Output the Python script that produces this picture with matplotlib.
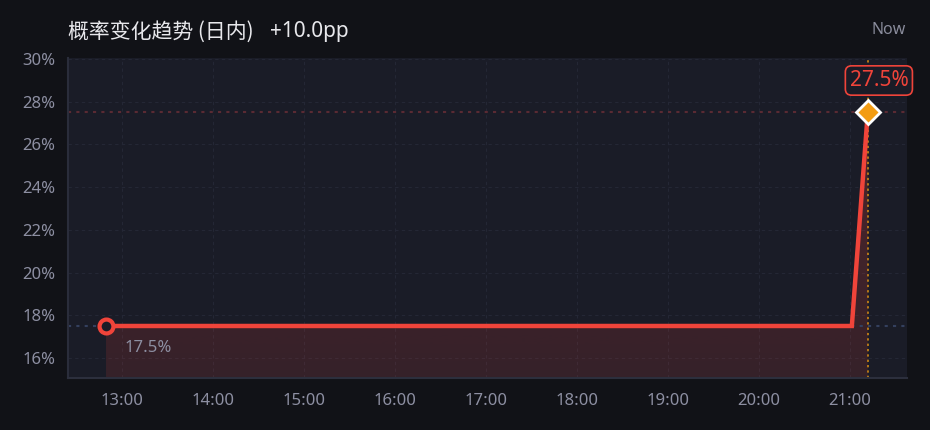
import matplotlib
matplotlib.use("Agg")
import matplotlib.pyplot as plt
import numpy as np
from matplotlib.patches import Polygon

plt.rcParams['font.family'] = ['Noto Sans', 'Noto Sans CJK SC', 'DejaVu Sans']

# ---- data ----
times = [12.825, 21.02, 21.195]        # hours of day
probs = [17.5, 17.5, 27.5]             # percent
start_label = "17.5%"
end_label = "27.5%"
hour_ticks = [13, 14, 15, 16, 17, 18, 19, 20, 21]
hour_labels = ["13:00", "14:00", "15:00", "16:00", "17:00", "18:00", "19:00", "20:00", "21:00"]
y_ticks = [16, 18, 20, 22, 24, 26, 28, 30]
y_labels = ["16%", "18%", "20%", "22%", "24%", "26%", "28%", "30%"]
title = "概率变化趋势 (日内)"
change = "+10.0pp"

FIG_BG = "#111217"
AX_BG = "#1a1c27"
RED = "#f0443a"
ORANGE = "#f39c12"
TICK = "#8d8fa2"
GRID = "#242735"

fig = plt.figure(figsize=(9.3, 4.3), dpi=100, facecolor=FIG_BG)
ax = fig.add_axes([68/930, 52/430, (907-68)/930, (378-58)/430])
ax.set_facecolor(AX_BG)

ymin, ymax = 15.064, 30.05
xmin, xmax = 12.407, 21.626
ax.set_xlim(xmin, xmax)
ax.set_ylim(ymin, ymax)

ax.set_xticks(hour_ticks)
ax.set_xticklabels(hour_labels)
ax.set_yticks(y_ticks)
ax.set_yticklabels(y_labels)
ax.tick_params(axis='both', length=0, colors=TICK, labelsize=12)
ax.tick_params(axis='x', pad=11)
ax.tick_params(axis='y', pad=9)
ax.grid(True, color=GRID, linestyle=(0, (3, 3)), linewidth=0.8)
ax.set_axisbelow(True)

for s in ['top', 'right']:
    ax.spines[s].set_visible(False)
ax.spines['left'].set_color("#2a2d3b")
ax.spines['left'].set_linewidth(1.5)
ax.spines['bottom'].set_color("#2c2f3d")
ax.spines['bottom'].set_linewidth(1.5)

# gradient fill under the line
verts = [(times[0], ymin)] + list(zip(times, probs)) + [(times[-1], ymin)]
poly = Polygon(verts, closed=True, facecolor='none', edgecolor='none')
ax.add_patch(poly)
grad = np.linspace(0.13, 0.25, 256).reshape(-1, 1)
rgba = np.zeros((256, 1, 4))
rgba[..., 0] = 0xf0 / 255
rgba[..., 1] = 0x44 / 255
rgba[..., 2] = 0x3a / 255
rgba[..., 3] = grad
img = ax.imshow(rgba, extent=[times[0], times[-1], ymin, max(probs)],
                origin='lower', aspect='auto', zorder=1, interpolation='bilinear')
img.set_clip_path(poly)

# reference lines
ax.axhline(probs[0], color="#34405e", linestyle=(0, (1.5, 2.5)), linewidth=1.5, zorder=1.5)
ax.axhline(probs[-1], color="#5a2a33", linestyle=(0, (1.5, 2.5)), linewidth=1.5, zorder=1.5)
ax.axvline(times[-1], color=ORANGE, linestyle=(0, (1.5, 2)), linewidth=1.1, zorder=1.6, alpha=0.9)

# main line
ax.plot(times, probs, color=RED, linewidth=3.2, zorder=3, solid_joinstyle='miter')

# markers
ax.plot(times[0], probs[0], marker='o', markersize=10, markerfacecolor=AX_BG,
        markeredgecolor=RED, markeredgewidth=3, zorder=4)
ax.plot(times[-1], probs[-1], marker='D', markersize=12, markerfacecolor=ORANGE,
        markeredgecolor="white", markeredgewidth=2, zorder=4)

# labels
ax.annotate(start_label, (times[0], probs[0]), xytext=(13, -16), textcoords='offset points',
            color=TICK, fontsize=12, ha='left', va='center', zorder=5)
ax.annotate(end_label, (times[-1], probs[-1]), xytext=(8, 23), textcoords='offset points',
            color=RED, fontsize=15, ha='center', va='center', zorder=5,
            bbox=dict(boxstyle='round,pad=0.2,rounding_size=0.3', facecolor=AX_BG,
                      edgecolor=RED, linewidth=1.2))

fig.text(68/930, 1 - 32/430, title, color="#e8e8ec", fontsize=15,
         ha='left', va='center', family=['Noto Sans CJK SC', 'DejaVu Sans'])
fig.text(270/930, 1 - 32/430, change, color="#e8e8ec", fontsize=15,
         ha='left', va='center', family=['Noto Sans', 'DejaVu Sans'])
fig.text(906/930, 1 - 30/430, "Now", color="#8a8c9c", fontsize=11.5, ha='right', va='center')

fig.savefig("out.png", dpi=100, facecolor=FIG_BG)
